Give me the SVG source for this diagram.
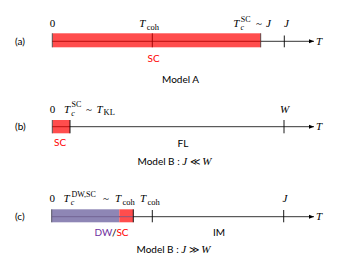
<svg xmlns="http://www.w3.org/2000/svg" width="350" height="263" viewBox="0 0 350 263">
<style>
.ax{stroke:#000;stroke-width:0.8;fill:none}
.tk{stroke:#000;stroke-width:0.9}
.m{font-family:"Liberation Serif",serif;font-style:italic;font-size:11px;fill:#000}
.r{font-family:"Liberation Serif",serif;font-size:11px;fill:#000}
.sb{font-family:"Liberation Serif",serif;font-size:8.5px;fill:#000}
.sp{font-family:"Liberation Serif",serif;font-size:8px;fill:#000}
.si{font-family:"Liberation Serif",serif;font-style:italic;font-size:8px;fill:#000}
.s{font-family:Lato,"Liberation Sans",sans-serif;font-size:10px;fill:#000}
.red{fill:#ff0000}
.pur{fill:#7030a0}
</style>
<defs>
<marker id="ah" markerWidth="6" markerHeight="6" refX="5" refY="3" orient="auto" markerUnits="userSpaceOnUse">
<path d="M0,1 L5,3 L0,5 Z" fill="#000"/>
</marker>
</defs>
<g id="connectors">
<line class="ax" x1="52" y1="41.3" x2="314" y2="41.3" marker-end="url(#ah)"/>
<line class="ax" x1="52" y1="126.7" x2="314" y2="126.7" marker-end="url(#ah)"/>
<line class="ax" x1="52" y1="216.7" x2="314" y2="216.7" marker-end="url(#ah)"/>
</g>
<g id="panel-a">
<text class="s" x="15" y="45">(a)</text>
<rect x="52.3" y="33.3" width="208.4" height="14" fill="#ff4d4d"/>
<line x1="52.3" y1="33.3" x2="52.3" y2="47.3" stroke="#555" stroke-width="1"/>
<line x1="260.7" y1="33.3" x2="260.7" y2="47.3" stroke="#333" stroke-width="0.8"/>
<line x1="52.3" y1="41.3" x2="260.7" y2="41.3" stroke="#a00" stroke-width="0.8"/>
<line x1="152.3" y1="33.3" x2="152.3" y2="47.3" stroke="#900" stroke-width="0.9"/>
<line class="tk" x1="284.3" y1="35.5" x2="284.3" y2="47.3"/>
<text class="r" x="49.8" y="27.3">0</text>
<text class="m" x="139.3" y="27.3">T</text><text class="sb" x="146.7" y="29.5">coh</text>
<text class="m" x="233.3" y="27.3">T</text><text class="si" x="240.5" y="30.3">c</text><text class="sp" x="240.8" y="21.5">SC</text>
<text class="r" x="256" y="27.3">~</text><text class="m" x="266" y="27.3">J</text>
<text class="m" x="284" y="27.3">J</text>
<text class="m" x="316" y="45">T</text>
<text class="s red" x="147.5" y="61.5">SC</text>
<text class="s" x="162" y="82.5">Model A</text>
</g>
<g id="panel-b">
<text class="s" x="15" y="130">(b)</text>
<rect x="52.3" y="120" width="17.7" height="13.3" fill="#ff4d4d"/>
<line x1="52.3" y1="120" x2="52.3" y2="133.3" stroke="#555" stroke-width="1"/>
<line x1="52.3" y1="126.7" x2="70" y2="126.7" stroke="#a00" stroke-width="0.8"/>
<line class="tk" x1="70" y1="120" x2="70" y2="133.3"/>
<line class="tk" x1="284" y1="120" x2="284" y2="133.3"/>
<text class="r" x="49.8" y="112.7">0</text>
<text class="m" x="64" y="112.7">T</text><text class="si" x="71.2" y="115.7">c</text><text class="sp" x="71.5" y="106.9">SC</text>
<text class="r" x="86" y="112.7">~</text>
<text class="m" x="96.5" y="112.7">T</text><text class="sb" x="103.5" y="114.9">KL</text>
<text class="m" x="280" y="112.7">W</text>
<text class="m" x="316" y="130">T</text>
<text class="s red" x="54" y="145.5">SC</text>
<text class="s" x="177.5" y="146.5">FL</text>
<text class="s" x="137.5" y="164.5">Model B : <tspan font-family="Liberation Serif,serif" font-style="italic" font-size="11">J</tspan> ≪ <tspan font-family="Liberation Serif,serif" font-style="italic" font-size="11">W</tspan></text>
</g>
<g id="panel-c">
<text class="s" x="15" y="220">(c)</text>
<rect x="51.7" y="209.3" width="67.6" height="13" fill="#8e86b5"/>
<rect x="119.3" y="209.3" width="14" height="13" fill="#ff4d4d"/>
<line x1="51.7" y1="209.3" x2="51.7" y2="222.3" stroke="#556" stroke-width="1"/>
<line x1="51.7" y1="216.7" x2="133.3" y2="216.7" stroke="#6a5a8a" stroke-width="0.8"/>
<line class="tk" x1="133.3" y1="209.3" x2="133.3" y2="222.3"/>
<line class="tk" x1="152.3" y1="210" x2="152.3" y2="222.3"/>
<line class="tk" x1="283.7" y1="210" x2="283.7" y2="222.3"/>
<text class="r" x="49.5" y="202.3">0</text>
<text class="m" x="63.5" y="202.3">T</text><text class="si" x="70.8" y="205.3">c</text><text class="sp" x="71.5" y="196.5">DW,SC</text>
<text class="r" x="103" y="202.3">~</text>
<text class="m" x="115" y="202.3">T</text><text class="sb" x="122.5" y="204.5">coh</text>
<text class="m" x="140" y="202.3">T</text><text class="sb" x="147.5" y="204.5">coh</text>
<text class="m" x="282.5" y="202.3">J</text>
<text class="m" x="316" y="220">T</text>
<text class="s" x="94.5" y="235.5"><tspan class="pur">DW</tspan>/<tspan class="red">SC</tspan></text>
<text class="s" x="213" y="235.5">IM</text>
<text class="s" x="136.5" y="252.5">Model B : <tspan font-family="Liberation Serif,serif" font-style="italic" font-size="11">J</tspan> ≫ <tspan font-family="Liberation Serif,serif" font-style="italic" font-size="11">W</tspan></text>
</g>
</svg>
